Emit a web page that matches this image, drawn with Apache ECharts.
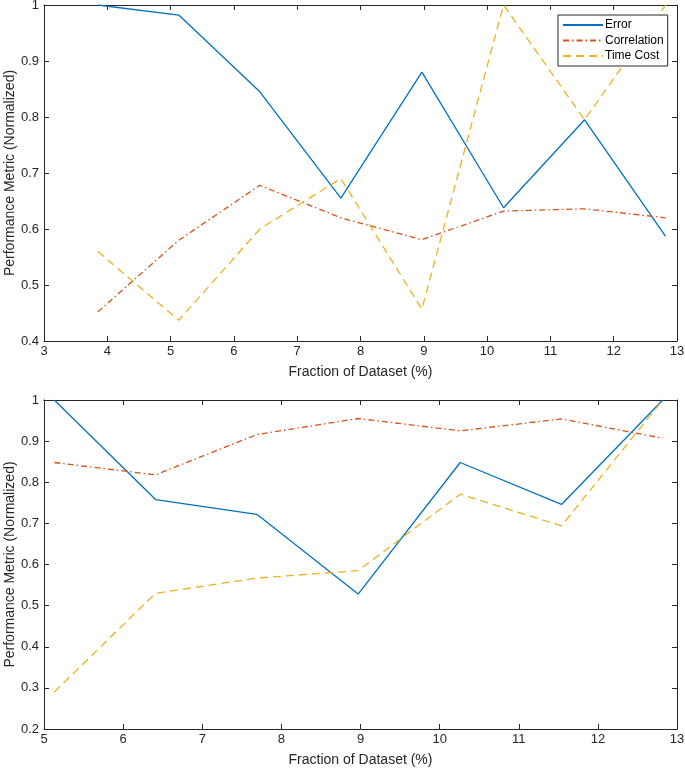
<!DOCTYPE html>
<html><head><meta charset="utf-8">
<script src="https://cdn.jsdelivr.net/npm/echarts@6/dist/echarts.min.js"></script>
<style>html,body{margin:0;padding:0;background:#fff}#c{width:685px;height:779px}</style>
</head><body><div id="c"></div>
<script>
const xTop = [3.85, 5.13, 6.41, 7.69, 8.97, 10.26, 11.54, 12.82];
const topError = [1.0, 0.982, 0.845, 0.655, 0.880, 0.638, 0.795, 0.587];
const topCorr = [0.452, 0.580, 0.678, 0.620, 0.581, 0.632, 0.636, 0.620];
const topTime = [0.560, 0.437, 0.600, 0.690, 0.457, 1.0, 0.795, 1.0];

const xBot = [5.13, 6.41, 7.69, 8.97, 10.26, 11.54, 12.82];
const botError = [1.0, 0.758, 0.722, 0.528, 0.848, 0.746, 1.0];
const botCorr = [0.848, 0.818, 0.916, 0.955, 0.925, 0.954, 0.907];
const botTime = [0.290, 0.530, 0.567, 0.585, 0.771, 0.694, 1.0];

const seriesNames = ['Error', 'Correlation', 'Time Cost'];
const colors = ['#0072BD', '#D95319', '#EDB120'];
const lineTypes = ['solid', [6, 3, 1.5, 3], [8, 5]];

const AX = '#262626';
const FONT = 'Liberation Sans, Arial, sans-serif';

function pairs(xs, ys) { return xs.map((x, i) => [x, ys[i]]); }

function xAxes(gi, min, max) {
  return [
    { gridIndex: gi, type: 'value', min: min, max: max, interval: 1, position: 'bottom',
      name: 'Fraction of Dataset (%)', nameLocation: 'middle', nameGap: 24, nameMoveOverlap: false,
      nameTextStyle: { color: AX, fontSize: 14, fontFamily: FONT },
      axisLine: { show: true, lineStyle: { color: AX, width: 1 } },
      axisTick: { show: true, inside: true, length: 5, lineStyle: { color: AX } },
      axisLabel: { color: AX, fontSize: 13, fontFamily: FONT, margin: 4 },
      splitLine: { show: false } },
    { gridIndex: gi, type: 'value', min: min, max: max, interval: 1, position: 'top',
      axisLine: { show: true, lineStyle: { color: AX, width: 1 } },
      axisTick: { show: true, inside: true, length: 5, lineStyle: { color: AX } },
      axisLabel: { show: false }, splitLine: { show: false } }
  ];
}
function yAxes(gi, min, max) {
  return [
    { gridIndex: gi, type: 'value', min: min, max: max, interval: 0.1, position: 'left',
      name: 'Performance Metric (Normalized)', nameLocation: 'middle', nameGap: 27, nameMoveOverlap: false,
      nameTextStyle: { color: AX, fontSize: 14, fontFamily: FONT },
      axisLine: { show: true, lineStyle: { color: AX, width: 1 } },
      axisTick: { show: true, inside: true, length: 5, lineStyle: { color: AX } },
      axisLabel: { color: AX, fontSize: 13, fontFamily: FONT, margin: 5 },
      splitLine: { show: false } },
    { gridIndex: gi, type: 'value', min: min, max: max, interval: 0.1, position: 'right',
      axisLine: { show: true, lineStyle: { color: AX, width: 1 } },
      axisTick: { show: true, inside: true, length: 5, lineStyle: { color: AX } },
      axisLabel: { show: false }, splitLine: { show: false } }
  ];
}

function mkSeries(name, idx, xi, yi, data) {
  return { name: name, type: 'line', xAxisIndex: xi, yAxisIndex: yi, data: data,
    symbol: 'none', showSymbol: false, animation: false, clip: true,
    lineStyle: { color: colors[idx], width: 1.3, type: lineTypes[idx] },
    itemStyle: { color: colors[idx] } };
}

const topData = [topError, topCorr, topTime];
const botData = [botError, botCorr, botTime];
const series = [];
seriesNames.forEach((n, i) => series.push(mkSeries(n, i, 0, 0, pairs(xTop, topData[i]))));
seriesNames.forEach((n, i) => series.push(mkSeries(n, i, 2, 2, pairs(xBot, botData[i]))));

const chart = echarts.init(document.getElementById('c'), null, { renderer: 'canvas' });
chart.setOption({
  backgroundColor: '#fff',
  animation: false,
  grid: [
    { left: 44, right: 8, top: 5, height: 336, containLabel: false, outerBoundsMode: 'none' },
    { left: 44, right: 8, top: 400, height: 329, containLabel: false, outerBoundsMode: 'none' }
  ],
  xAxis: [...xAxes(0, 3, 13), ...xAxes(1, 5, 13)],
  yAxis: [...yAxes(0, 0.4, 1), ...yAxes(1, 0.2, 1)],
  legend: {
    data: seriesNames, orient: 'vertical', left: 558, top: 15,
    padding: [4, 4, 4, 4], itemGap: 3.5, itemWidth: 40, itemHeight: 13,
    borderColor: AX, borderWidth: 1, backgroundColor: '#fff',
    itemStyle: { opacity: 0, borderWidth: 0 },
    textStyle: { color: '#000', fontSize: 12, fontFamily: FONT, padding: [0, 0, 0, -3] }
  },
  series: series
});
</script></body></html>
